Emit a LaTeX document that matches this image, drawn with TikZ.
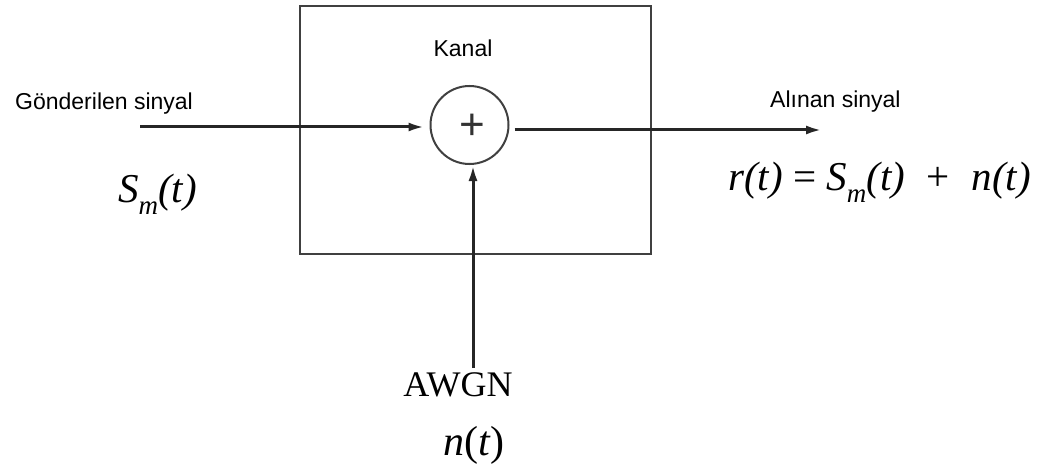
\documentclass[tikz,border=0pt]{standalone}
\usepackage{fontspec}
\setmainfont{Liberation Serif}
\setsansfont{Liberation Sans}
\usetikzlibrary{arrows.meta, positioning}

% small italic subscript for the signal names
\newcommand{\subm}{\raisebox{-0.3em}{\fontsize{27}{28}\selectfont\textit{m}}}

\begin{document}
\begin{tikzpicture}[
    x=1pt, y=-1pt,
    lbl/.style={font=\sffamily\fontsize{23}{26}\selectfont, inner sep=0pt},
    sig/.style={font=\fontsize{41}{44}\selectfont, inner sep=0pt},
    sigline/.style={-{Latex[length=16pt, width=9pt]}, line width=3pt, black!85},
    every node/.style={inner sep=0pt}
]
    \useasboundingbox (0,0) rectangle (1047,468);

    % Channel box and adder
    \node[draw, line width=2.6pt, black!75, minimum width=351pt, minimum height=248pt]
        (kanal) at (475.5,130) {};
    \node[lbl, anchor=base] (kanaltxt) at (463,57) {Kanal};
    \node[draw, circle, line width=2pt, black!75, minimum size=78pt]
        (sum) at (469.5,125) {};
    \node[font=\sffamily\fontsize{44}{44}\selectfont, black!80] (plus) at (472,127) {+};

    % Texts
    \node[lbl, anchor=base west] (txin) at (15,110) {Gönderilen sinyal};
    \node[lbl, anchor=base west] (txout) at (770,108) {Alınan sinyal};
    \node[sig, anchor=base west] (sm) at (118,202) {\textit{S}\subm\textit{(t)}};
    \node[sig, anchor=base west] (rt) at (728,190)
        {\textit{r(t)} = \textit{S}\subm\textit{(t)} \;+\; \textit{n(t)}};
    \node[font=\fontsize{36}{40}\selectfont, anchor=base] (awgn) at (458,396) {AWGN};
    \node[font=\fontsize{42}{46}\selectfont, anchor=base] (nt) at (474,455) {\textit{n}(\textit{t})};

    % Connectors
    \coordinate (in) at (140,127);
    \coordinate (out) at (822,130);
    \coordinate (noise) at (473,368);
    \draw[sigline, shorten >=5pt] (in) -- (in -| sum.west);
    \draw[sigline, shorten <=5pt] (out -| sum.east) -- (out);
    \draw[sigline] (noise) -- (noise |- sum.south);
\end{tikzpicture}
\end{document}
